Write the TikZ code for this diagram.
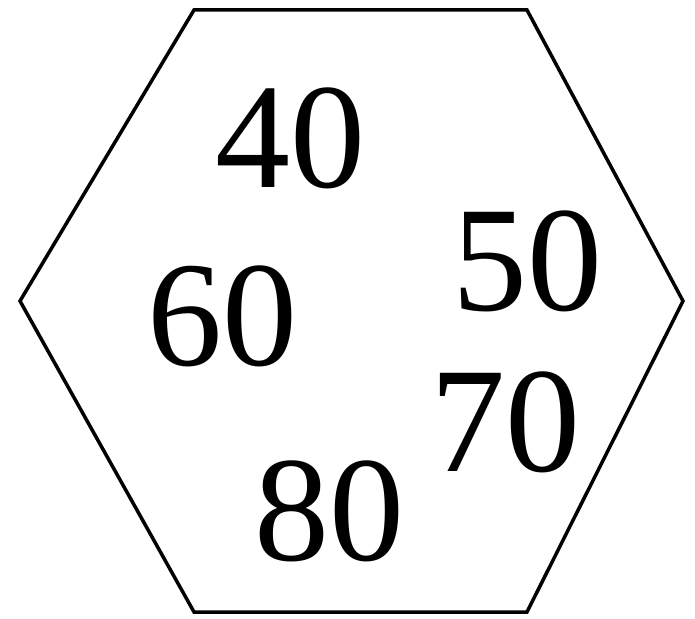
\documentclass[tikz,border=0pt]{standalone}
\usepackage{fontspec}
\setmainfont{Liberation Serif}
\begin{document}
\begin{tikzpicture}[x=1pt,y=-1pt,
  num/.style={inner sep=0pt,anchor=center,font=\fontsize{150}{150}\selectfont},
  hex/.style={draw=black,line width=3.5pt,line join=miter}]
\useasboundingbox (0,0) rectangle (695,618);
\coordinate (tl) at (194,10);
\coordinate (tr) at (527,10);
\coordinate (r) at (683,301);
\coordinate (br) at (527,612);
\coordinate (bl) at (194,612);
\coordinate (l) at (20,301);
\draw[hex] (tl) -- (tr) -- (r) -- (br) -- (bl) -- (l) -- cycle;
\node[num] (n40) at (290,138) {40};
\node[num] (n50) at (527,261) {50};
\node[num] (n60) at (222,316) {60};
\node[num] (n70) at (505,422) {70};
\node[num] (n80) at (329,511) {80};
\end{tikzpicture}
\end{document}
